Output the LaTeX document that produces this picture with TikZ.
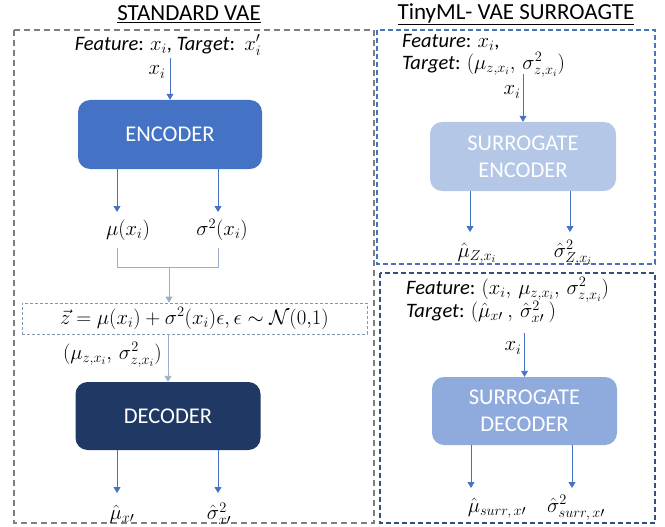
\documentclass[tikz,border=0pt]{standalone}
\usepackage{fontspec}
\setmainfont{Carlito}
\usetikzlibrary{arrows.meta}
\definecolor{encblue}{HTML}{4472C4}
\definecolor{decnavy}{HTML}{203864}
\definecolor{sencblue}{HTML}{B4C7E7}
\definecolor{sdecblue}{HTML}{8FAADC}
\definecolor{mergeblue}{HTML}{9AAFCB}
\definecolor{framegray}{HTML}{7F7F7F}
\definecolor{framenavy}{HTML}{33507F}
\definecolor{zboxcol}{HTML}{8497B0}
\begin{document}
\begin{tikzpicture}[x=1pt,y=-1pt,
  title/.style={font=\fontsize{23}{26}\selectfont, inner sep=0pt},
  lbl/.style={font=\fontsize{20.5}{24}\selectfont, inner sep=0pt},
  mlbl/.style={font=\fontsize{21}{24}\selectfont, inner sep=0pt},
  block/.style={rounded corners=12pt, draw=none, text=white, align=center,
    font=\fontsize{22.5}{27}\selectfont},
  arr/.style={draw=encblue, line width=0.9pt, -{Triangle[width=7pt,length=6pt]}},
  mline/.style={draw=mergeblue, line width=0.9pt},
  grayframe/.style={draw=framegray, line width=1.6pt, dash pattern=on 6pt off 4pt},
  blueframe/.style={draw=encblue, line width=1.6pt, dash pattern=on 5pt off 3pt},
  navyframe/.style={draw=framenavy, line width=1.6pt, dash pattern=on 5pt off 3pt},
]
\useasboundingbox (0,0) rectangle (665,527);

% frames
\draw[grayframe] (14,30) rectangle (374,523);
\draw[blueframe] (377,30) rectangle (655,264);
\draw[navyframe] (380,273) rectangle (655,523);

% titles
\node[title] (tstd) at (189,14) {\underline{STANDARD VAE}};
\node[title] (ttiny) at (516,14) {\underline{TinyML- VAE SURROAGTE}};

% ---------- standard VAE ----------
\node[lbl] (featL) at (168,45) {\textit{Feature}: $x_i$, \textit{Target}:\ \ $x'_i$};
\node[mlbl] (xiL) at (157,72) {$x_i$};
\node[block, fill=encblue, minimum width=184pt, minimum height=69pt] (enc) at (170,134.5) {ENCODER};
\coordinate (encin) at (170,58);
\draw[arr] (encin) -- (enc.north);

\coordinate (muin) at (117,212);
\coordinate (sgin) at (218,212);
\draw[arr] (enc.south -| muin) -- (muin);
\draw[arr] (enc.south -| sgin) -- (sgin);
\node[mlbl] (mu) at (128,230) {$\mu(x_i)$};
\node[mlbl] (sg) at (222,230) {$\sigma^2(x_i)$};

\coordinate (mub) at (117,248);
\coordinate (sgb) at (218,248);
\coordinate (join) at (169,267);
\draw[mline] (mub) -- (mub |- join) -- (sgb |- join) -- (sgb);
\node[draw=zboxcol, line width=0.8pt, dash pattern=on 3pt off 2pt,
      minimum width=345pt, minimum height=31pt, inner sep=0pt,
      font=\fontsize{21}{24}\selectfont] (zbox) at (194.5,318.5)
      {$\vec{z}=\mu(x_i)+\sigma^2(x_i)\epsilon,\epsilon\sim\mathcal{N}(0{,}1)$};
\draw[arr, draw=mergeblue] (join) -- (zbox.north -| join);

\node[block, fill=decnavy, minimum width=185pt, minimum height=68pt] (dec) at (168,416) {DECODER};
\draw[arr, draw=mergeblue] (zbox.south -| dec) -- (dec.north);
\node[mlbl, anchor=east] (zlat) at (162,355) {$(\mu_{z,x_i},\,\sigma^2_{z,x_i})$};

\coordinate (muo) at (117,493);
\coordinate (sgo) at (218,493);
\draw[arr] (dec.south -| muo) -- (muo);
\draw[arr] (dec.south -| sgo) -- (sgo);
\node[mlbl] (muhat) at (122,514) {$\hat{\mu}_{x\prime}$};
\node[mlbl] (sghat) at (219,514) {$\hat{\sigma}^2_{x\prime}$};

% ---------- surrogate encoder ----------
\node[lbl, anchor=west] (featE) at (402,42) {\textit{Feature}: $x_i$,};
\node[lbl, anchor=west] (targE) at (402,65) {\textit{Target}: $(\mu_{z,x_i},\,\sigma^2_{z,x_i})$};
\node[mlbl] (xiE) at (512,92) {$x_i$};
\node[block, fill=sencblue, minimum width=186pt, minimum height=69pt] (senc) at (523,156.5) {SURROGATE\\ENCODER};
\coordinate (sencin) at (523,74);
\draw[arr] (sencin) -- (senc.north);
\coordinate (smuo) at (470,232);
\coordinate (ssgo) at (570,232);
\draw[arr] (senc.south -| smuo) -- (smuo);
\draw[arr] (senc.south -| ssgo) -- (ssgo);
\node[mlbl] (smuhat) at (477,253) {$\hat{\mu}_{Z,x_i}$};
\node[mlbl] (ssghat) at (573,253) {$\hat{\sigma}^2_{Z,x_i}$};

% ---------- surrogate decoder ----------
\node[lbl, anchor=west] (featD) at (406,290) {\textit{Feature}: $(x_i,\,\mu_{z,x_i},\,\sigma^2_{z,x_i})$};
\node[lbl, anchor=west] (targD) at (406,312) {\textit{Target}: $(\hat{\mu}_{x\prime}\ ,\,\hat{\sigma}^2_{x\prime}\ )$};
\node[mlbl] (xiD) at (513,348) {$x_i$};
\node[block, fill=sdecblue, minimum width=185pt, minimum height=68pt] (sdec) at (524.5,411) {SURROGATE\\DECODER};
\coordinate (sdecin) at (524.5,333);
\draw[arr] (sdecin) -- (sdec.north);
\coordinate (dmuo) at (471,488);
\coordinate (dsgo) at (572,488);
\draw[arr] (sdec.south -| dmuo) -- (dmuo);
\draw[arr] (sdec.south -| dsgo) -- (dsgo);
\node[mlbl] (dmuhat) at (497,508) {$\hat{\mu}_{surr,\,x\prime}$};
\node[mlbl] (dsghat) at (576,508) {$\hat{\sigma}^2_{surr,\,x\prime}$};
\end{tikzpicture}
\end{document}
